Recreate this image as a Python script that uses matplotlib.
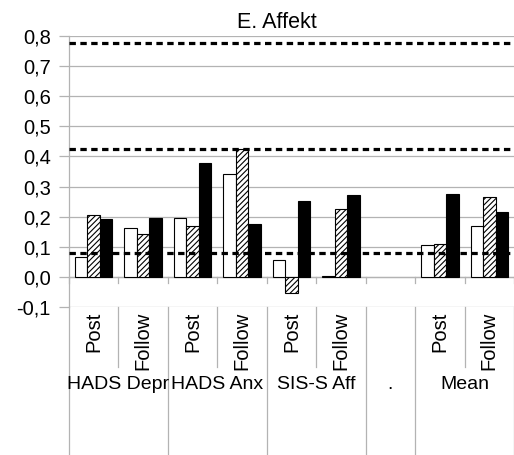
import numpy as np
import matplotlib
matplotlib.use("Agg")
from matplotlib import pyplot as plt
from matplotlib.ticker import FuncFormatter

plt.rcParams['font.family'] = ['Liberation Sans', 'DejaVu Sans']
plt.rcParams['hatch.linewidth'] = 0.8

# ---- data ----
groups = ['HADS Depr', 'HADS Anx', 'SIS-S Aff', '.', 'Mean']
group_sizes = [2, 2, 2, 1, 2]
slot_labels = ['Post', 'Follow', 'Post', 'Follow', 'Post', 'Follow', '', 'Post', 'Follow']

white_vals = [0.066, 0.164, 0.195, 0.341, 0.055, 0.002, np.nan, 0.106, 0.168]
hatch_vals = [0.204, 0.144, 0.170, 0.426, -0.054, 0.226, np.nan, 0.108, 0.266]
black_vals = [0.193, 0.196, 0.379, 0.176, 0.251, 0.272, np.nan, 0.275, 0.215]

ref_lines = [0.079, 0.426, 0.778]

GRID = '#b3b3b3'

fig = plt.figure(figsize=(5.14, 4.55), dpi=100)
ax = fig.add_axes([69 / 514, (455 - 307) / 455, (514 - 69) / 514, (307 - 36) / 455])

x = np.arange(len(slot_labels))
w = 0.253
ax.bar(x - w, white_vals, w, color='white', edgecolor='black', linewidth=0.8, zorder=3)
ax.bar(x, hatch_vals, w, color='white', edgecolor='black', hatch='//////', linewidth=0.8, zorder=3)
ax.bar(x + w, black_vals, w, color='black', edgecolor='black', linewidth=0.8, zorder=3)

for v in ref_lines:
    ax.axhline(v, color='black', lw=2.3, linestyle=(0, (2.0, 1.4)), zorder=4)

ax.set_xlim(-0.5, len(slot_labels) - 0.5)
ax.set_ylim(-0.1, 0.8)
ax.set_yticks(np.arange(-0.1, 0.81, 0.1))
ax.yaxis.set_major_formatter(FuncFormatter(lambda v, p: f'{v:.1f}'.replace('.', ',').replace('-0,0', '0,0')))
ax.tick_params(axis='y', length=7, width=0.9, color=GRID, labelsize=14.5, pad=6)
ax.set_xticks([])
ax.grid(axis='y', color=GRID, lw=0.9, zorder=0)
ax.axhline(0, color=GRID, lw=0.9, zorder=1)
for s in ['top', 'right', 'bottom']:
    ax.spines[s].set_visible(False)
ax.spines['left'].set_color(GRID)
ax.spines['left'].set_linewidth(0.9)

# slot boundaries: small ticks on the zero line, separators under the axis
bounds = np.arange(len(slot_labels) + 1) - 0.5
major = np.concatenate([[0], np.cumsum(group_sizes)]) - 0.5
trans = ax.get_xaxis_transform()
for b in bounds:
    ax.plot([b, b], [0, -0.02], color=GRID, lw=0.9, zorder=1, clip_on=False)
    if b in major:
        ax.plot([b, b], [0, -0.55], color=GRID, lw=0.9, transform=trans, clip_on=False)
    else:
        ax.plot([b, b], [0, -0.222], color=GRID, lw=0.9, transform=trans, clip_on=False)

for xi, lab in zip(x, slot_labels):
    ax.text(xi, -0.018, lab, rotation=90, ha='center', va='top', fontsize=14.5,
            transform=trans)

start = 0
for g, n in zip(groups, group_sizes):
    ax.text(start + (n - 1) / 2, -0.285, g, ha='center', va='center', fontsize=14,
            transform=trans)
    start += n

fig.text(277 / 514, 1 - 22 / 455, 'E. Affekt', ha='center', va='center', fontsize=15.5)

fig.savefig('out.png', dpi=100)
